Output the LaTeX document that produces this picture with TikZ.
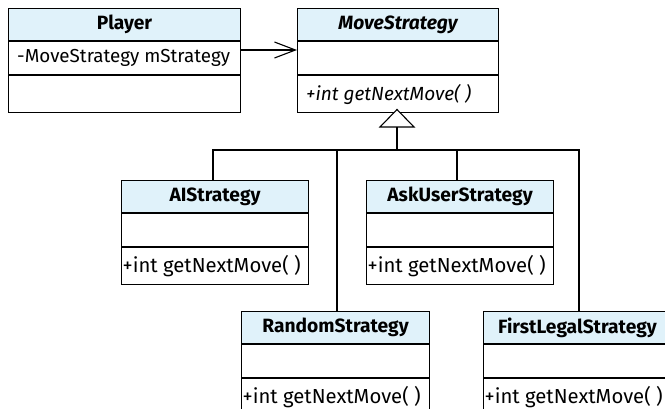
\documentclass[tikz,border=0pt]{standalone}
\usepackage{fontspec}
\setmainfont{Fira Sans}
\usetikzlibrary{arrows.meta}
\definecolor{hdrblue}{RGB}{224,242,250}
\tikzset{
  boxline/.style={draw=black, line width=1.1pt},
  hdr/.style={boxline, fill=hdrblue, minimum height=32pt, inner sep=0pt, font=\fontsize{19.2}{21}\selectfont\bfseries},
  rowbox/.style={boxline, fill=white, inner sep=0pt},
  atxt/.style={inner sep=0pt, font=\fontsize{18.8}{20}\selectfont},
  otxt/.style={inner sep=0pt, font=\fontsize{20.3}{22}\selectfont},
  itxt/.style={inner sep=0pt, font=\fontsize{19}{21}\selectfont\itshape},
  conn/.style={line width=1.1pt},
}
\newcommand\umlbox[9]{%
  \node[hdr, minimum width=#4pt, anchor=north west] (#1) at (#2,#3) {#5};
  \node[rowbox, minimum width=#4pt, minimum height=33pt, anchor=north west] (#1-a) at (#1.south west) {};
  \node[rowbox, minimum width=#4pt, minimum height=37pt, anchor=north west] (#1-o) at (#1-a.south west) {};
  \node[atxt, anchor=west] (#1-at) at ([xshift=#8pt]#1-a.west) {#6};
  \node[#9, anchor=west] (#1-ot) at ([xshift=#8pt]#1-o.west) {#7};
}
\begin{document}
\begin{tikzpicture}[x=1pt,y=-1pt]
\useasboundingbox (0,0) rectangle (665,408);
\clip (0,0) rectangle (665,408);
\umlbox{player}{8}{8}{232}{Player}{-MoveStrategy mStrategy}{}{9}{otxt}
\umlbox{move}{297}{8}{201}{\itshape MoveStrategy}{}{+int getNextMove( )}{9}{itxt}
\umlbox{ai}{121}{180}{187}{AIStrategy}{}{+int getNextMove( )}{1.5}{otxt}
\umlbox{ask}{366}{180}{187}{AskUserStrategy}{}{+int getNextMove( )}{1.5}{otxt}
\umlbox{rand}{241}{311}{188}{RandomStrategy}{}{+int getNextMove( )}{1.5}{otxt}
\umlbox{first}{483}{311}{188}{FirstLegalStrategy}{}{+int getNextMove( )}{1.5}{otxt}
% association arrow
\coordinate (arrs) at (240,50);
\coordinate (arre) at (297,50);
\draw[conn, -{Straight Barb[length=21pt,width=16pt,line width=1.1pt]}] (arrs) -- (arre);
% generalization
\coordinate (apex) at (397,109.5);
\coordinate (tri) at (397,127);
\coordinate (bus) at (397,150);
\coordinate (bai) at (213,150);
\coordinate (brand) at (337,150);
\coordinate (bask) at (457,150);
\coordinate (bfirst) at (579,150);
\draw[conn, fill=white] (apex) -- ++(17,17.5) -- ++(-34,0) -- cycle;
\draw[conn] (tri) -- (bus);
\draw[conn] (bai |- ai.north) -- (bai) -- (bfirst) -- (bfirst |- first.north);
\draw[conn] (brand) -- (brand |- rand.north);
\draw[conn] (bask) -- (bask |- ask.north);
\end{tikzpicture}
\end{document}
